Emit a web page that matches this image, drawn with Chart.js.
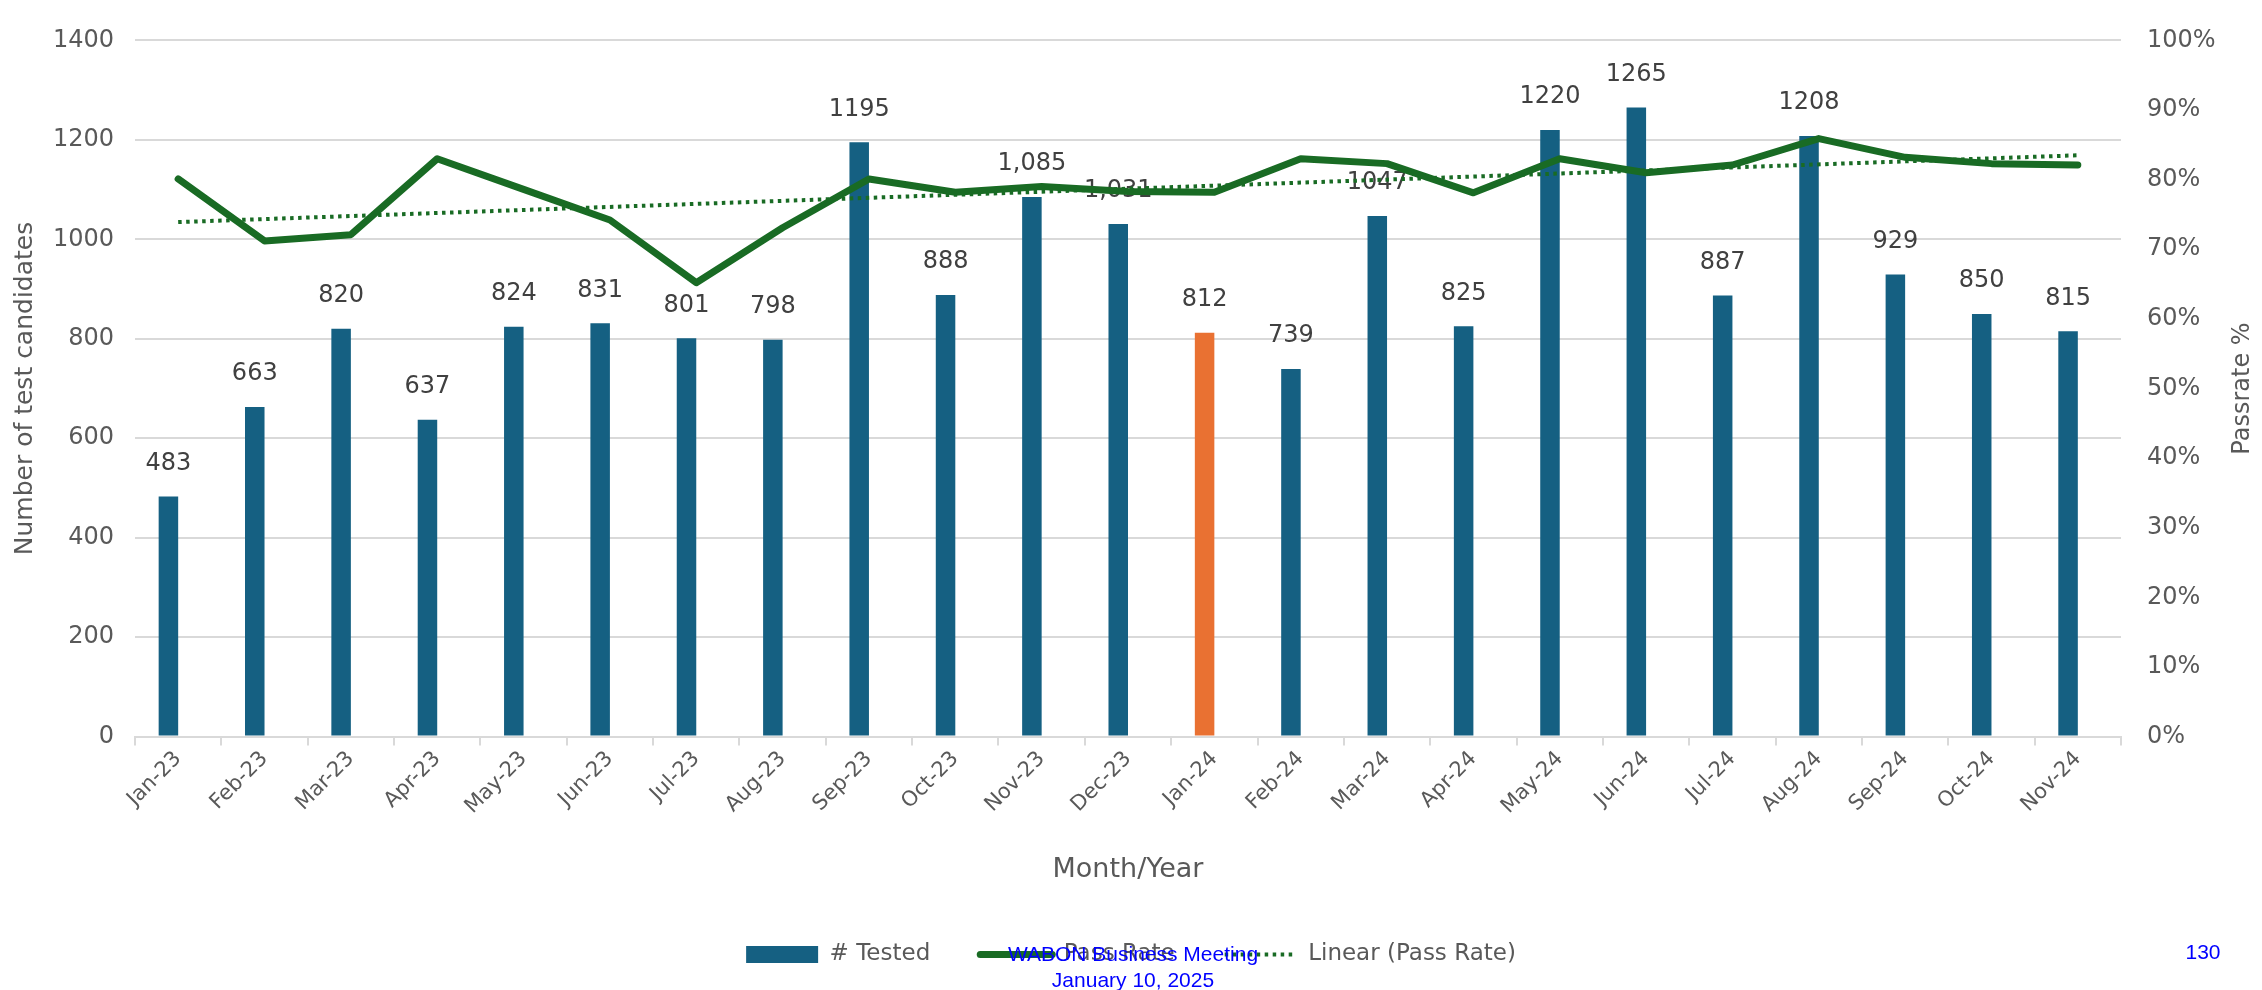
<!DOCTYPE html>
<html>
<head>
<meta charset="utf-8">
<title>Test candidates and pass rate</title>
<script src="https://cdn.jsdelivr.net/npm/chart.js@4.4.1/dist/chart.umd.min.js"></script>
<style>
  html, body { margin: 0; padding: 0; background: #fff; }
  #wrap { position: relative; width: 2262px; height: 990px; }
  .footer {
    position: absolute;
    font-family: "Liberation Sans", Arial, sans-serif;
    font-size: 21px;
    line-height: 26px;
    color: #0000ff;
    text-align: center;
  }
</style>
</head>
<body>
<div id="wrap">
  <canvas id="chart" width="2262" height="990"></canvas>
  <div class="footer" style="left: 963px; top: 941px; width: 340px;">WABON Business Meeting<br>January 10, 2025</div>
  <div class="footer" style="left: 2163px; top: 939px; width: 80px;">130</div>
</div>
<script>
// monthly test volume and pass rate
const months = ['Jan-23', 'Feb-23', 'Mar-23', 'Apr-23', 'May-23', 'Jun-23', 'Jul-23', 'Aug-23',
  'Sep-23', 'Oct-23', 'Nov-23', 'Dec-23', 'Jan-24', 'Feb-24', 'Mar-24', 'Apr-24', 'May-24',
  'Jun-24', 'Jul-24', 'Aug-24', 'Sep-24', 'Oct-24', 'Nov-24'];
const tested = [483, 663, 820, 637, 824, 831, 801, 798, 1195, 888, 1085, 1031, 812,
  739, 1047, 825, 1220, 1265, 887, 1208, 929, 850, 815];
const passRate = [80.1, 71.2, 72.1, 83.0, 78.6, 74.2, 65.2, 73.1, 80.1, 78.2, 79.0, 78.3, 78.2,
  83.0, 82.3, 78.1, 83.0, 81.0, 82.1, 85.9, 83.2, 82.3, 82.1];
// trendline value at first and last month
const trendEnds = [73.9, 83.5];
const commaMonths = ['Nov-23', 'Dec-23'];
const highlightMonth = 'Jan-24';

const BLUE = '#156082';
const ORANGE = '#E97132';
const GREEN = '#196B24';
const GRID = '#d9d9d9';
const TEXT = '#595959';

const barColors = months.map(m => m === highlightMonth ? ORANGE : BLUE);
const labelText = tested.map((v, i) => commaMonths.includes(months[i]) ? v.toLocaleString('en-US') : String(v));
const trendData = months.map((m, i) => i === 0 ? trendEnds[0] : (i === months.length - 1 ? trendEnds[1] : null));

Chart.defaults.font.family = '"DejaVu Sans", sans-serif';
Chart.defaults.color = TEXT;

// numbers above the bars, drawn before the lines so the lines sit on top
const barLabels = {
  id: 'barLabels',
  afterDatasetDraw(chart, args) {
    if (args.index !== 0) return;
    const ctx = chart.ctx;
    ctx.save();
    ctx.font = '24px "DejaVu Sans"';
    ctx.fillStyle = '#404040';
    ctx.textAlign = 'center';
    ctx.textBaseline = 'middle';
    args.meta.data.forEach((bar, i) => {
      ctx.fillText(labelText[i], bar.x, bar.y - 33);
    });
    ctx.restore();
  }
};

// right axis title, reading bottom to top like the left one
const rightTitle = {
  id: 'rightTitle',
  afterDraw(chart) {
    const s = chart.scales.y1;
    const ctx = chart.ctx;
    ctx.save();
    ctx.translate(s.right - 19, (s.top + s.bottom) / 2);
    ctx.rotate(-Math.PI / 2);
    ctx.font = '24px "DejaVu Sans"';
    ctx.fillStyle = TEXT;
    ctx.textAlign = 'center';
    ctx.textBaseline = 'middle';
    ctx.fillText('Passrate %', 0, 0);
    ctx.restore();
  }
};

const ctx = document.getElementById('chart');
const myChart = new Chart(ctx, {
  type: 'bar',
  data: {
    labels: months,
    datasets: [
      {
        label: '# Tested',
        data: tested,
        backgroundColor: barColors,
        borderWidth: 0,
        yAxisID: 'y',
        order: 2,
        categoryPercentage: 0.452,
        barPercentage: 1
      },
      {
        // empty partner series, keeps the bars left of the month centre
        label: '',
        data: months.map(() => null),
        yAxisID: 'y',
        order: 3,
        categoryPercentage: 0.452,
        barPercentage: 1
      },
      {
        type: 'line',
        label: 'Pass Rate',
        data: passRate,
        borderColor: GREEN,
        backgroundColor: GREEN,
        borderWidth: 7,
        borderJoinStyle: 'round',
        borderCapStyle: 'round',
        pointRadius: 0,
        tension: 0,
        yAxisID: 'y1',
        order: 0
      },
      {
        type: 'line',
        label: 'Linear (Pass Rate)',
        data: trendData,
        spanGaps: true,
        borderColor: GREEN,
        backgroundColor: GREEN,
        borderWidth: 4,
        borderDash: [3.5, 4.5],
        pointRadius: 0,
        yAxisID: 'y1',
        order: 1
      }
    ]
  },
  options: {
    responsive: false,
    animation: false,
    devicePixelRatio: 1,
    layout: { padding: { top: 20, bottom: 14, left: 0, right: 0 } },
    plugins: {
      tooltip: { enabled: false },
      legend: {
        position: 'bottom',
        labels: {
          filter: item => item.text !== '',
          sort: (a, b) => a.datasetIndex - b.datasetIndex,
          usePointStyle: true,
          pointStyleWidth: 72,
          boxHeight: 17,
          padding: 50,
          color: TEXT,
          font: { size: 23 },
          generateLabels(chart) {
            const items = Chart.defaults.plugins.legend.labels.generateLabels(chart);
            items.forEach(it => {
              const ds = chart.data.datasets[it.datasetIndex];
              if (it.datasetIndex === 0) {
                it.pointStyle = 'rect';
                it.lineWidth = 0;
              } else {
                it.pointStyle = 'line';
                it.lineWidth = ds.borderWidth;
                it.lineDash = ds.borderDash || [];
                it.lineCap = ds.borderCapStyle || 'butt';
                it.strokeStyle = ds.borderColor;
              }
            });
            return items;
          }
        }
      }
    },
    scales: {
      x: {
        afterFit(s) { s.height = 156.4; },
        grid: { drawOnChartArea: false, color: GRID, lineWidth: 2, tickLength: 9, tickColor: GRID },
        border: { color: GRID, width: 2 },
        ticks: { autoSkip: false, maxRotation: 45, minRotation: 45, padding: 1, color: TEXT, font: { size: 21 } },
        title: { display: true, text: 'Month/Year', color: TEXT, font: { size: 27 }, padding: { top: 0, bottom: 7 } }
      },
      y: {
        position: 'left',
        min: 0,
        max: 1400,
        afterFit(s) { s.width = 135; },
        grid: { color: GRID, lineWidth: 2, drawTicks: false },
        border: { display: false },
        ticks: { stepSize: 200, padding: 21, color: TEXT, font: { size: 24 }, callback: v => String(v) },
        title: { display: true, text: 'Number of test candidates', color: TEXT, font: { size: 25 }, padding: { top: 10, bottom: 0 } }
      },
      y1: {
        position: 'right',
        min: 0,
        max: 100,
        afterFit(s) { s.width = 141; },
        grid: { drawOnChartArea: false, drawTicks: false },
        border: { display: false },
        ticks: { stepSize: 10, padding: 26, color: TEXT, font: { size: 24 }, callback: v => v + '%' }
      }
    }
  },
  plugins: [barLabels, rightTitle]
});
</script>
</body>
</html>
